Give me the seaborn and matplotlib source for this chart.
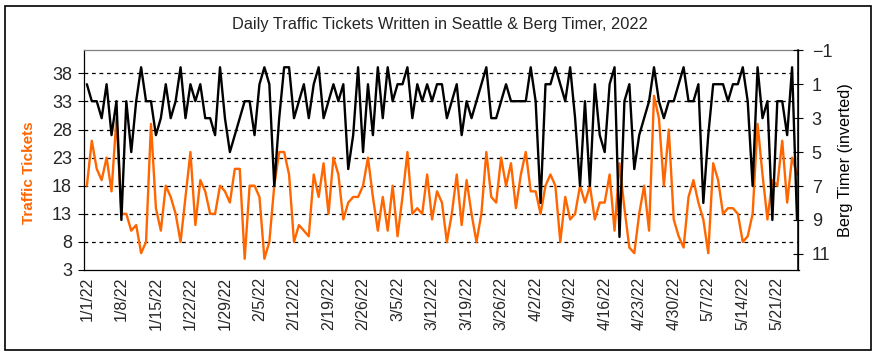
import numpy as np
import pandas as pd
import matplotlib
matplotlib.use("Agg")
import matplotlib.pyplot as plt
from matplotlib.patches import Rectangle
import seaborn as sns

# =========================
# Data
# =========================

start_date = "2022-01-01"

tickets = [
    18, 26, 21, 19, 23, 17, 30, 13, 13, 10, 11, 6, 8, 29, 14, 10, 18, 16, 13, 8,
    16, 24, 11, 19, 17, 13, 13, 18, 17, 15, 21, 21, 5, 18, 18, 16, 5, 8, 18, 24,
    24, 20, 8, 11, 10, 9, 20, 16, 22, 13, 23, 20, 12, 15, 16, 16, 18, 23, 16, 10,
    16, 10, 18, 9, 16, 24, 13, 14, 13, 20, 12, 17, 15, 8, 13, 20, 11, 19, 13, 8,
    13, 24, 16, 15, 23, 18, 22, 14, 20, 24, 17, 17, 13, 18, 20, 18, 8, 16, 12, 13,
    18, 15, 18, 12, 15, 15, 20, 10, 22, 14, 7, 6, 13, 18, 10, 34, 30, 18, 28, 12,
    9, 7, 16, 19, 15, 12, 6, 22, 19, 13, 14, 14, 13, 8, 9, 13, 29, 20, 12, 19,
    18, 26, 15, 23, 20,
]

berg_timer = [
    1, 2, 2, 3, 1, 4, 2, 9, 2, 5, 2, 0, 2, 2, 4, 3, 1, 3, 2, 0,
    3, 1, 2, 1, 3, 3, 4, 0, 3, 5, 4, 3, 2, 2, 4, 1, 0, 1, 7, 3,
    0, 0, 3, 2, 1, 3, 1, 0, 3, 2, 1, 2, 1, 6, 4, 0, 5, 1, 4, 0,
    3, 0, 2, 1, 1, 0, 3, 1, 2, 1, 2, 1, 1, 3, 2, 1, 4, 2, 3, 2,
    1, 0, 3, 3, 2, 1, 2, 2, 2, 2, 0, 2, 8, 1, 1, 0, 1, 2, 0, 3,
    7, 2, 7, 1, 4, 5, 1, 0, 10, 2, 1, 6, 4, 3, 2, 0, 2, 3, 2, 2,
    1, 0, 2, 2, 1, 8, 4, 1, 1, 1, 2, 1, 1, 0, 2, 7, 0, 3, 2, 9,
    2, 2, 4, 0, 9,
]

left_ticks = [3, 8, 13, 18, 23, 28, 33, 38]
right_ticks = [-1, 1, 3, 5, 7, 9, 11]

dates = pd.date_range(start_date, periods=len(tickets), freq="D")
df = pd.DataFrame({"date": dates, "tickets": tickets, "berg": berg_timer})

# =========================
# Plot
# =========================

sns.set_style("white")
plt.rcParams["font.family"] = ["Liberation Sans", "DejaVu Sans"]

fig = plt.figure(figsize=(8.79, 3.56), dpi=100)
ax = fig.add_axes([84.4 / 879, 1 - 270 / 356, (798.5 - 84.4) / 879, (270 - 50.3) / 356])

sns.lineplot(data=df, x="date", y="tickets", ax=ax, color="#FF6600", linewidth=1.7)

ax.set_ylim(3, 42.1)
ax.set_yticks(left_ticks)
for v in left_ticks[1:]:
    ax.axhline(v, color="black", linestyle=(0, (3, 3)), linewidth=0.9, zorder=0)

ax2 = ax.twinx()
sns.lineplot(data=df, x="date", y="berg", ax=ax2, color="black", linewidth=1.7)
ax2.set_ylim(11.95, -1)
ax2.set_yticks(right_ticks)

one_day = pd.Timedelta(days=1)
ax.set_xlim(dates[0] - 0.5 * one_day, dates[-1] + 0.3 * one_day)

ax.set_xticks(dates[::7])
ax.set_xticklabels([f"{d.month}/{d.day}/{d.strftime('%y')}" for d in dates[::7]],
                   rotation=90, fontsize=11.5)
ax.set_xticks(dates, minor=True)
ax.tick_params(axis="x", which="major", direction="inout", length=6, width=0.8,
               color="black", pad=2)
ax.tick_params(axis="x", which="minor", direction="out", length=2.5, width=0.7,
               color="black")
ax.tick_params(axis="y", direction="out", length=4, width=0.8, labelsize=13,
               color="black", pad=5)
ax2.tick_params(axis="y", direction="inout", length=7, width=0.8, labelsize=13,
                color="black", pad=6)

ax.set_xlabel("")
ax.set_ylabel("")
ax2.set_ylabel("")

for name, sp in ax.spines.items():
    sp.set_linewidth(0.9)
    sp.set_color("black")
ax.spines["top"].set_color("#808080")
for name, sp in ax2.spines.items():
    sp.set_visible(False)
ax2.spines["right"].set_visible(True)
ax2.spines["right"].set_color("black")
ax2.spines["right"].set_linewidth(1.1)

fig.text(440 / 879, 1 - 25 / 356, "Daily Traffic Tickets Written in Seattle & Berg Timer, 2022",
         ha="center", va="center", fontsize=11.8)
fig.text(29 / 879, 1 - 173 / 356, "Traffic Tickets", rotation=90, ha="center", va="center",
         fontsize=11, fontweight="bold", color="#FF6600")
fig.text(846 / 879, 1 - 160 / 356, "Berg Timer (inverted)", rotation=90, ha="center",
         va="center", fontsize=11.7, color="black")

fig.patches.append(Rectangle((5 / 879, 1 - 350 / 356), 866 / 879, 344 / 356,
                             transform=fig.transFigure, fill=False,
                             edgecolor="black", linewidth=1.2))

plt.savefig("out.png", dpi=100)
